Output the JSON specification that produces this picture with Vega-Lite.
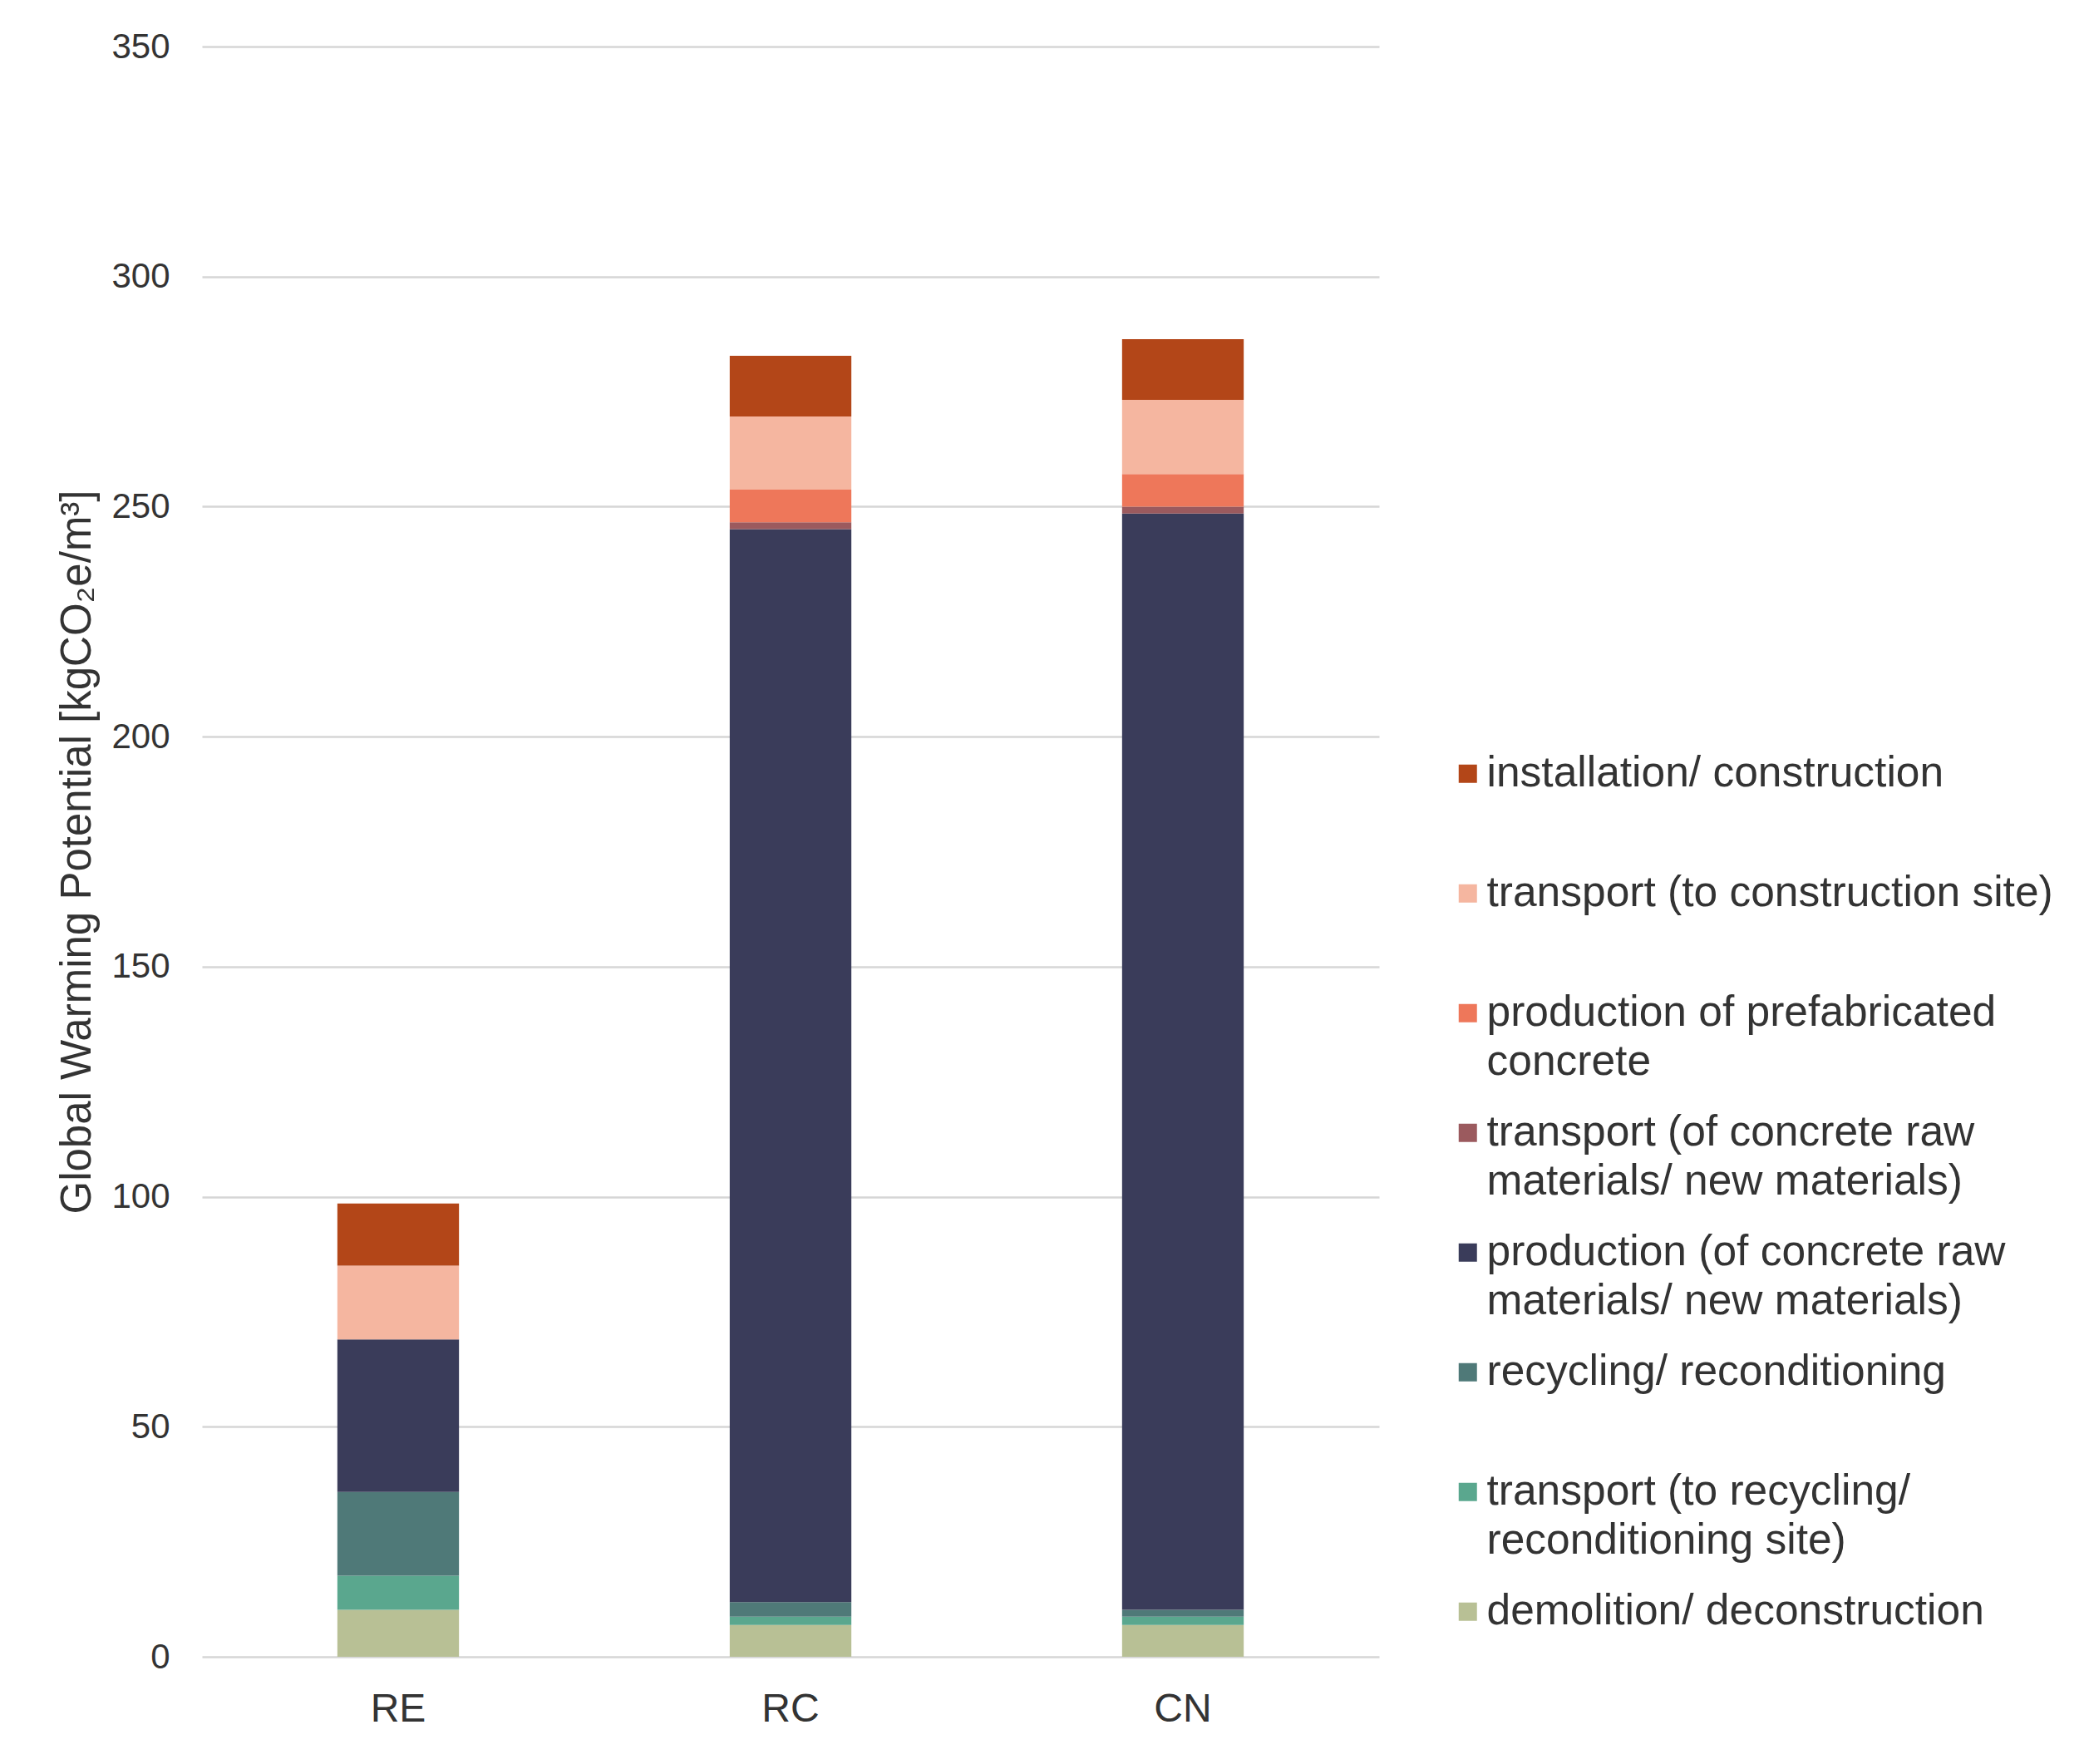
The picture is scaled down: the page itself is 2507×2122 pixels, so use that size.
{
  "$schema": "https://vega.github.io/schema/vega-lite/v6.json",
  "width": 1416,
  "height": 1937,
  "padding": {"left": 67, "top": 35, "right": 5, "bottom": 5},
  "background": "white",
  "config": {"view": {"stroke": null}, "font": "Liberation Sans"},
  "data": {
    "values": [
      {"scenario": "RE", "stage": "demolition/ deconstruction", "gwp": 10.2},
      {"scenario": "RE", "stage": "transport (to recycling/ reconditioning site)", "gwp": 7.4},
      {"scenario": "RE", "stage": "recycling/ reconditioning", "gwp": 18.2},
      {"scenario": "RE", "stage": "production (of concrete raw materials/ new materials)", "gwp": 33.2},
      {"scenario": "RE", "stage": "transport (of concrete raw materials/ new materials)", "gwp": 0},
      {"scenario": "RE", "stage": "production of prefabricated concrete", "gwp": 0},
      {"scenario": "RE", "stage": "transport (to construction site)", "gwp": 16.0},
      {"scenario": "RE", "stage": "installation/ construction", "gwp": 13.5},
      {"scenario": "RC", "stage": "demolition/ deconstruction", "gwp": 6.9},
      {"scenario": "RC", "stage": "transport (to recycling/ reconditioning site)", "gwp": 1.8},
      {"scenario": "RC", "stage": "recycling/ reconditioning", "gwp": 3.2},
      {"scenario": "RC", "stage": "production (of concrete raw materials/ new materials)", "gwp": 233.2},
      {"scenario": "RC", "stage": "transport (of concrete raw materials/ new materials)", "gwp": 1.5},
      {"scenario": "RC", "stage": "production of prefabricated concrete", "gwp": 7.1},
      {"scenario": "RC", "stage": "transport (to construction site)", "gwp": 15.9},
      {"scenario": "RC", "stage": "installation/ construction", "gwp": 13.2},
      {"scenario": "CN", "stage": "demolition/ deconstruction", "gwp": 6.9},
      {"scenario": "CN", "stage": "transport (to recycling/ reconditioning site)", "gwp": 1.8},
      {"scenario": "CN", "stage": "recycling/ reconditioning", "gwp": 1.5},
      {"scenario": "CN", "stage": "production (of concrete raw materials/ new materials)", "gwp": 238.3},
      {"scenario": "CN", "stage": "transport (of concrete raw materials/ new materials)", "gwp": 1.5},
      {"scenario": "CN", "stage": "production of prefabricated concrete", "gwp": 7.1},
      {"scenario": "CN", "stage": "transport (to construction site)", "gwp": 16.1},
      {"scenario": "CN", "stage": "installation/ construction", "gwp": 13.2}
    ]
  },
  "transform": [
    {"calculate": "indexof(['demolition/ deconstruction', 'transport (to recycling/ reconditioning site)', 'recycling/ reconditioning', 'production (of concrete raw materials/ new materials)', 'transport (of concrete raw materials/ new materials)', 'production of prefabricated concrete', 'transport (to construction site)', 'installation/ construction'], datum.stage)", "as": "stack_order"}
  ],
  "mark": {"type": "bar"},
  "encoding": {
    "x": {
      "field": "scenario",
      "type": "nominal",
      "sort": ["RE", "RC", "CN"],
      "scale": {"paddingInner": 0.69, "paddingOuter": 0.345},
      "axis": {
        "title": null,
        "labelAngle": 0,
        "labelFontSize": 48,
        "labelColor": "#333333",
        "labelPadding": 39,
        "ticks": false,
        "domain": false,
        "grid": false
      }
    },
    "y": {
      "field": "gwp",
      "type": "quantitative",
      "stack": "zero",
      "scale": {"domain": [0, 350], "nice": false},
      "axis": {
        "title": "Global Warming Potential [kgCO₂e/m³]",
        "titleFontSize": 51,
        "titleFontWeight": "normal",
        "titleColor": "#333333",
        "titlePadding": 14,
        "values": [0, 50, 100, 150, 200, 250, 300, 350],
        "labelFontSize": 42,
        "labelColor": "#333333",
        "labelPadding": 39,
        "ticks": false,
        "domain": false,
        "gridColor": "#d6d6d6",
        "gridWidth": 2.5
      }
    },
    "color": {
      "field": "stage",
      "type": "nominal",
      "scale": {
        "domain": [
          "installation/ construction",
          "transport (to construction site)",
          "production of prefabricated concrete",
          "transport (of concrete raw materials/ new materials)",
          "production (of concrete raw materials/ new materials)",
          "recycling/ reconditioning",
          "transport (to recycling/ reconditioning site)",
          "demolition/ deconstruction"
        ],
        "range": ["#B34618", "#F5B6A0", "#EE775A", "#9B5A5E", "#3A3C5A", "#4F7978", "#5AA78E", "#B8C095"]
      },
      "legend": {
        "title": null,
        "orient": "none",
        "legendX": 1497,
        "legendY": 849,
        "padding": 0,
        "symbolType": "square",
        "symbolSize": 484,
        "symbolStrokeWidth": 0,
        "symbolOpacity": 1,
        "labelFontSize": 51.5,
        "labelColor": "#333333",
        "labelLimit": 1000,
        "labelOffset": -3,
        "labelBaseline": "middle",
        "gridAlign": "all",
        "rowPadding": 32,
        "labelExpr": "datum.label == 'production of prefabricated concrete' ? ['production of prefabricated', 'concrete'] : datum.label == 'transport (of concrete raw materials/ new materials)' ? ['transport (of concrete raw', 'materials/ new materials)'] : datum.label == 'production (of concrete raw materials/ new materials)' ? ['production (of concrete raw', 'materials/ new materials)'] : datum.label == 'transport (to recycling/ reconditioning site)' ? ['transport (to recycling/', 'reconditioning site)'] : [datum.label, '']",
        "encode": {
          "labels": {"update": {"dy": {"value": 0}, "lineHeight": {"value": 59.5}}}
        }
      }
    },
    "order": {"field": "stack_order", "type": "quantitative", "sort": "ascending"}
  }
}
